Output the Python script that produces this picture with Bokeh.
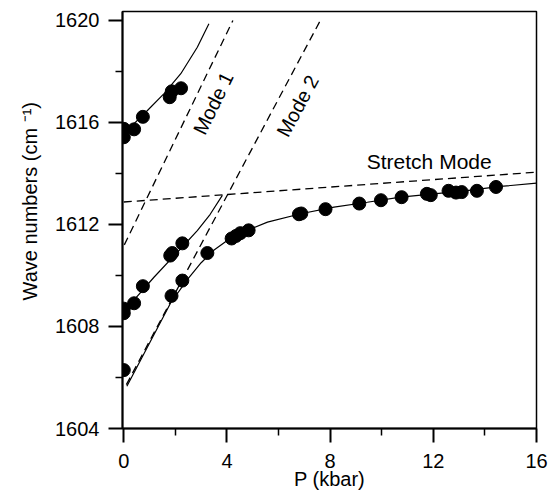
import math
from bokeh.plotting import figure
from bokeh.models import Range1d, FixedTicker, Title
from bokeh.core.properties import value
from bokeh.embed import file_html
from bokeh.resources import INLINE

# ---- measured points (P in kbar, wave number in cm^-1) ----
upper_p = [0.0, 0.0, 0.4, 0.74, 1.78, 1.86, 2.22]
upper_w = [1615.42, 1615.75, 1615.73, 1616.22, 1616.99, 1617.22, 1617.34]

middle_p = [0.0, 0.0, 0.4, 0.74, 1.8, 1.88, 2.27]
middle_w = [1608.52, 1608.7, 1608.91, 1609.58, 1610.78, 1610.88, 1611.26]

lower_p = [0.0, 1.85, 2.27, 3.24, 4.18, 4.35, 4.52, 4.84, 6.79, 6.88, 7.82,
           9.13, 9.97, 10.77, 11.75, 11.9, 12.59, 12.88, 13.1, 13.69, 14.43]
lower_w = [1606.29, 1609.2, 1609.8, 1610.88, 1611.45, 1611.55, 1611.66, 1611.77,
           1612.4, 1612.43, 1612.6, 1612.82, 1612.95, 1613.07, 1613.2, 1613.15,
           1613.32, 1613.25, 1613.27, 1613.32, 1613.47]

# ---- fitted curves ----
fit_upper_p = [0.0, 0.14, 0.85, 1.56, 2.21, 2.85, 3.30]
fit_upper_w = [1615.6, 1615.7, 1616.4, 1617.13, 1617.91, 1618.95, 1619.87]

fit_middle_p = [0.0, 0.4, 1.17, 2.14, 2.85, 3.35, 3.82]
fit_middle_w = [1608.6, 1609.04, 1609.93, 1610.98, 1611.76, 1612.4, 1613.14]

fit_lower_p = [0.12, 1.0, 1.82, 2.47, 3.0, 3.5, 4.28, 5.57, 6.86, 8.15, 9.44,
               10.73, 12.02, 13.3, 14.6, 16.0]
fit_lower_w = [1605.66, 1607.35, 1608.93, 1609.85, 1610.5, 1611.0, 1611.57,
               1612.09, 1612.42, 1612.68, 1612.87, 1613.07, 1613.2, 1613.33,
               1613.49, 1613.62]

# ---- uncoupled modes (dashed) ----
mode1_p = [0.02, 4.23]
mode1_w = [1611.2, 1620.0]
mode2_p = [0.1, 7.62]
mode2_w = [1605.72, 1620.0]
stretch_p = [0.0, 16.0]
stretch_w = [1612.88, 1614.05]

# ---- annotations ----
label_text = ["Mode 1", "Mode 2"]
label_p = [3.47, 6.74]
label_w = [1616.75, 1616.65]
label_angle_deg = [64.0, 61.7]
stretch_label = "Stretch Mode"
stretch_label_p = 9.42
stretch_label_w = 1614.02
y_title = "Wave numbers (cm \u207b\u00b9)"

x_ticks = [0, 4, 8, 12, 16]
x_minor = [2, 6, 10, 14]
y_ticks = [1604, 1608, 1612, 1616, 1620]
y_minor = [1606, 1610, 1614, 1618]

FONT = "Liberation Sans"
FS = "20px"

p = figure(width=553, height=494, output_backend="svg", toolbar_location=None,
           x_range=Range1d(-0.05, 16.0), y_range=Range1d(1604, 1620.35),
           min_border_left=122, min_border_right=17, min_border_top=11,
           min_border_bottom=66)
p.grid.visible = False
p.outline_line_color = "black"
p.outline_line_width = 1.5
p.background_fill_color = "white"
p.border_fill_color = "white"

p.xaxis.ticker = FixedTicker(ticks=x_ticks, minor_ticks=x_minor)
p.yaxis.ticker = FixedTicker(ticks=y_ticks, minor_ticks=y_minor)

for ax in (p.xaxis[0], p.yaxis[0]):
    ax.axis_line_width = 2
    ax.axis_line_color = "black"
    ax.major_tick_line_width = 2
    ax.minor_tick_line_width = 1.5
    ax.major_tick_line_color = "black"
    ax.minor_tick_line_color = "black"
    ax.major_tick_in = 0
    ax.minor_tick_in = 0
    ax.major_tick_out = 14
    ax.minor_tick_out = 7
    ax.major_label_text_font = FONT
    ax.major_label_text_font_size = FS
    ax.major_label_text_color = "black"
    ax.axis_label_text_font = FONT
    ax.axis_label_text_font_size = FS
    ax.axis_label_text_font_style = "normal"
    ax.axis_label_text_color = "black"

p.xaxis.axis_label = "P (kbar)"
p.xaxis.major_label_standoff = 11
p.xaxis.axis_label_standoff = -3
p.yaxis.major_label_standoff = 9

# y-axis title, placed as in the original (slightly above centre)
p.add_layout(Title(text=y_title, align="left", offset=128, standoff=23,
                   text_font=FONT, text_font_size=FS, text_font_style="normal",
                   text_color="black"), "left")

# dashed uncoupled modes
for xs, ys in ((mode1_p, mode1_w), (mode2_p, mode2_w), (stretch_p, stretch_w)):
    p.line(xs, ys, line_color="black", line_width=1.3, line_dash="8 5")

# fitted curves
for xs, ys in ((fit_upper_p, fit_upper_w), (fit_middle_p, fit_middle_w),
               (fit_lower_p, fit_lower_w)):
    p.line(xs, ys, line_color="black", line_width=1.2)

# data points
for xs, ys in ((upper_p, upper_w), (middle_p, middle_w), (lower_p, lower_w)):
    p.scatter(xs, ys, size=13, fill_color="black", line_color="black")

p.text(x=label_p, y=label_w, text=label_text,
       angle=[math.radians(a) for a in label_angle_deg],
       text_align="center", text_baseline="middle",
       text_font=value(FONT), text_font_size=FS, text_color="black")
p.text(x=[stretch_label_p], y=[stretch_label_w], text=[stretch_label],
       text_align="left", text_baseline="bottom",
       text_font=value(FONT), text_font_size="21px", text_color="black")

open("out.html", "w").write(file_html(p, INLINE))
